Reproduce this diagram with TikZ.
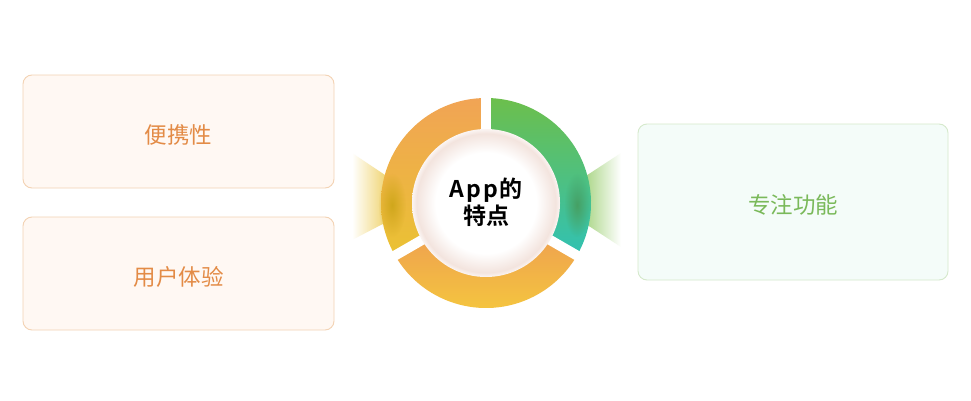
\documentclass[tikz,border=0pt]{standalone}
\usepackage{fontspec}
\newfontfamily\cjk{Noto Sans CJK SC}[BoldFont={Noto Sans CJK SC Bold}]
\usetikzlibrary{fadings}
\definecolor{obord}{HTML}{F3D3B4}
\definecolor{ofill}{HTML}{FFF8F3}
\definecolor{otext}{HTML}{E38B46}
\definecolor{gbord}{HTML}{D5E9CB}
\definecolor{gfill}{HTML}{F4FCF9}
\definecolor{gtext}{HTML}{7AB95A}
\definecolor{segOtop}{HTML}{F1A455}
\definecolor{segObot}{HTML}{EAC233}
\definecolor{segGtop}{HTML}{6CBF4C}
\definecolor{segGbot}{HTML}{31C1B3}
\definecolor{segBtop}{HTML}{EFA24F}
\definecolor{segBbot}{HTML}{F5CB3C}
\definecolor{fanY}{HTML}{EAC33A}
\definecolor{fanG}{HTML}{8CC75C}
\definecolor{blobY}{HTML}{D0A71C}
\definecolor{blobG}{HTML}{46A064}
\definecolor{ballpink}{HTML}{F3E4DE}
\definecolor{balledge}{HTML}{FBF5F3}
\pgfdeclareradialshading{ballshade}{\pgfpointorigin}{color(0bp)=(white); color(17bp)=(white); color(23.5bp)=(ballpink); color(25bp)=(balledge); color(50bp)=(balledge)}
\tikzfading[name=softblob, inner color=transparent!0, outer color=transparent!100]
\tikzset{
  featbox/.style={draw=#1bord, fill=#1fill, line width=0.9pt, rounded corners=9pt,
    minimum width=311pt, inner sep=0pt},
  feattext/.style={font=\cjk\fontsize{22.5pt}{26pt}\selectfont, text=#1text},
  gapline/.style={draw=white, line width=10pt}
}
\newcommand{\ringsec}[2]{(#1:105) arc[start angle=#1, end angle=#2, radius=105] -- (#2:68) arc[start angle=#2, end angle=#1, radius=68] -- cycle}
\begin{document}
\begin{tikzpicture}[x=1pt,y=1pt]
\useasboundingbox (0,0) rectangle (971,400);
\fill[white] (0,0) rectangle (971,400);
% boxes
\node[featbox=o, minimum height=113pt] (b1) at (178.5,268.5) {};
\node[featbox=o, minimum height=113pt] (b2) at (178.5,126.5) {};
\node[featbox=g, minimum height=156pt, minimum width=310pt] (b3) at (793,198) {};
\node[feattext=o] (t1) at ([yshift=-3pt]b1.center) {便携性};
\node[feattext=o] (t2) at ([yshift=-3pt]b2.center) {用户体验};
\node[feattext=g] (t3) at ([yshift=-3pt]b3.center) {专注功能};
% fans
\shade[left color=white, right color=fanY] (352,247) -- (400,215) -- (400,185) -- (352,160) -- cycle;
\shade[left color=fanG, right color=white] (572,215) -- (621,247) -- (621,153) -- (572,185) -- cycle;
% ring
\begin{scope}[shift={(486,197)}]
  \shade[top color=segOtop, bottom color=segObot] \ringsec{90}{210};
  \shade[top color=segGtop, bottom color=segGbot] \ringsec{-30}{90};
  \shade[top color=segBtop, bottom color=segBbot] \ringsec{210}{330};
  \fill[blobY, path fading=softblob] (-94,-2) ellipse (14 and 32);
  \fill[blobG, path fading=softblob] (91,-2) ellipse (13 and 32);
  \coordinate (c) at (0,0);
  \draw[gapline] (c) -- (90:112);
  \draw[gapline] (c) -- (-30:112);
  \draw[gapline] (c) -- (210:112);
  \path[shading=ballshade] (c) circle (74);
  \node[font=\cjk\bfseries\fontsize{23pt}{27pt}\selectfont, align=center] (title) at (0,1)
    {A\kern2pt p\kern2pt p\kern1pt 的\\特点};
\end{scope}
\end{tikzpicture}
\end{document}
